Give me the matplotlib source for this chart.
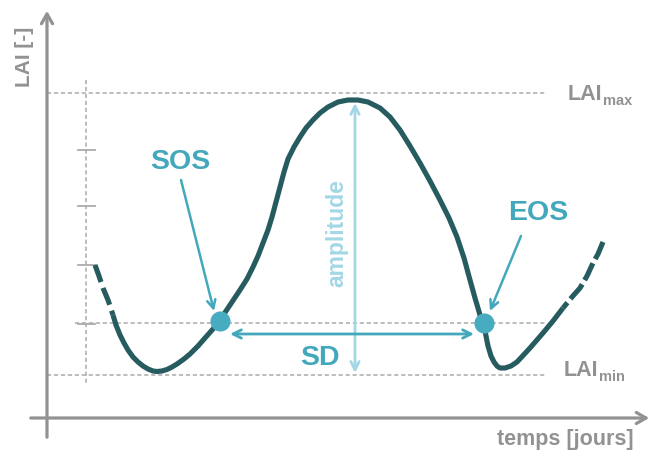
import matplotlib.pyplot as plt
import numpy as np

plt.rcParams['font.family'] = ['Liberation Sans', 'DejaVu Sans']
plt.rcParams['lines.scale_dashes'] = False

# schematic drawn in picture units (x right, y down)
W, H = 654, 457

# LAI curve, solid part
curve_x = [113, 116, 120, 124, 128, 133, 138, 143, 148, 153, 157, 162, 167, 172, 177,
           184, 190, 198, 205, 213, 220, 230, 240, 247,
           253, 258, 263, 268, 272, 276, 280, 284, 288, 294, 300, 306, 313, 320, 328,
           338, 348, 358, 368, 380, 390, 400, 410, 420, 430, 440, 449, 457, 464, 470,
           475, 480, 485, 488, 491, 494, 497, 500, 505, 511, 517, 530, 543, 553, 563]
curve_y = [315, 325, 335, 343, 350, 357, 362, 366, 369, 371, 371.5, 371, 369.5, 367, 364,
           359, 354, 346, 338, 329, 320, 305, 290, 279,
           267, 256, 243, 230, 217, 202, 187, 172, 159, 147, 137, 128, 120, 113, 107,
           102, 100, 100, 102, 108, 117, 130, 146, 163, 181, 200, 218, 237, 258, 280,
           298, 315, 331, 346, 356, 362, 366, 368, 368, 366, 362, 348, 333, 321, 308]
# dashed ends of the curve
left_x = [95, 99, 103, 108, 113]
left_y = [265, 276, 288, 300, 315]
right_x = [603, 598, 593, 587, 580, 572, 563]
right_y = [242, 254, 263, 276, 288, 297, 308]

# phenology markers
sos = (220, 321)
eos = (484, 323)
lai_max_y = 93
lai_min_y = 375
ticks_y = [150, 206, 265, 324]

dark = '#265b5f'
teal = '#43a8bc'
light = '#a3d7e5'
grey = '#929292'
dgrey = '#ababab'

fig = plt.figure(figsize=(6.54, 4.57), dpi=100)
ax = fig.add_axes([0, 0, 1, 1])
ax.set_xlim(0, W)
ax.set_ylim(H, 0)
ax.axis('off')

# main axes with arrows
ax.annotate('', xy=(47, 8), xytext=(47, 440),
            arrowprops=dict(arrowstyle='->,head_length=0.7,head_width=0.4', color=grey, lw=2.3))
ax.annotate('', xy=(652, 418), xytext=(28, 418),
            arrowprops=dict(arrowstyle='->,head_length=0.7,head_width=0.4', color=grey, lw=2.3))

# reference dashed lines
dash = (0, (3, 2))
ax.plot([47, 545], [lai_max_y, lai_max_y], color=dgrey, lw=1.1, ls=dash)
ax.plot([47, 545], [lai_min_y, lai_min_y], color=dgrey, lw=1.1, ls=dash)
ax.plot([75, 545], [sos[1] + 2, eos[1]], color=dgrey, lw=1.1, ls=dash)
ax.plot([86, 86], [80, 385], color=dgrey, lw=1.1, ls=dash)
for ty in ticks_y:
    ax.plot([78, 95], [ty, ty], color=dgrey, lw=1.3)

# curve
ax.plot(curve_x, curve_y, color=dark, lw=3.7, solid_capstyle='butt', solid_joinstyle='round')
ax.plot(left_x, left_y, color=dark, lw=3.7, ls=(0, (13, 4.5)), dash_capstyle='butt')
ax.plot(right_x, right_y, color=dark, lw=3.7, ls=(0, (13.5, 3.5)), dash_capstyle='butt')

# amplitude and SD arrows
ax.annotate('', xy=(355, 103), xytext=(355, 373),
            arrowprops=dict(arrowstyle='<->,head_length=0.6,head_width=0.3', color=light, lw=2,
                            shrinkA=0, shrinkB=0))
ax.annotate('', xy=(230, 334), xytext=(474, 334),
            arrowprops=dict(arrowstyle='<->,head_length=0.6,head_width=0.3', color=teal, lw=2,
                            shrinkA=0, shrinkB=0))
ax.annotate('', xy=(214, 311), xytext=(181, 180),
            arrowprops=dict(arrowstyle='->,head_length=0.6,head_width=0.3', color=teal, lw=1.8,
                            shrinkA=0, shrinkB=0))
ax.annotate('', xy=(490, 311), xytext=(521, 236),
            arrowprops=dict(arrowstyle='->,head_length=0.6,head_width=0.3', color=teal, lw=1.8,
                            shrinkA=0, shrinkB=0))

ax.scatter([sos[0], eos[0]], [sos[1], eos[1]], s=210, color='#47acc0', zorder=5, linewidths=0)

# labels
bold = dict(fontweight='bold', ha='center', va='center')
ax.text(180, 162, 'SOS', color=teal, fontsize=20.5, **bold)
ax.text(538, 213, 'EOS', color=teal, fontsize=20.5, **bold)
ax.text(320, 358, 'SD', color=teal, fontsize=20.5, **bold)
ax.text(337, 233, 'amplitude', color=light, fontsize=16.5, rotation=90, **bold)
ax.text(24, 57, 'LAI [-]', color=grey, fontsize=15, rotation=90, **bold)
ax.text(565, 439, 'temps [jours]', color=grey, fontsize=15.5, **bold)
ax.text(585, 95, 'LAI', color=grey, fontsize=15.5, **bold)
ax.text(603, 101, 'max', color=grey, fontsize=10.5, fontweight='bold', ha='left', va='center')
ax.text(581, 370, 'LAI', color=grey, fontsize=15.5, **bold)
ax.text(599, 377, 'min', color=grey, fontsize=10.5, fontweight='bold', ha='left', va='center')

fig.savefig('out.png', dpi=100)
